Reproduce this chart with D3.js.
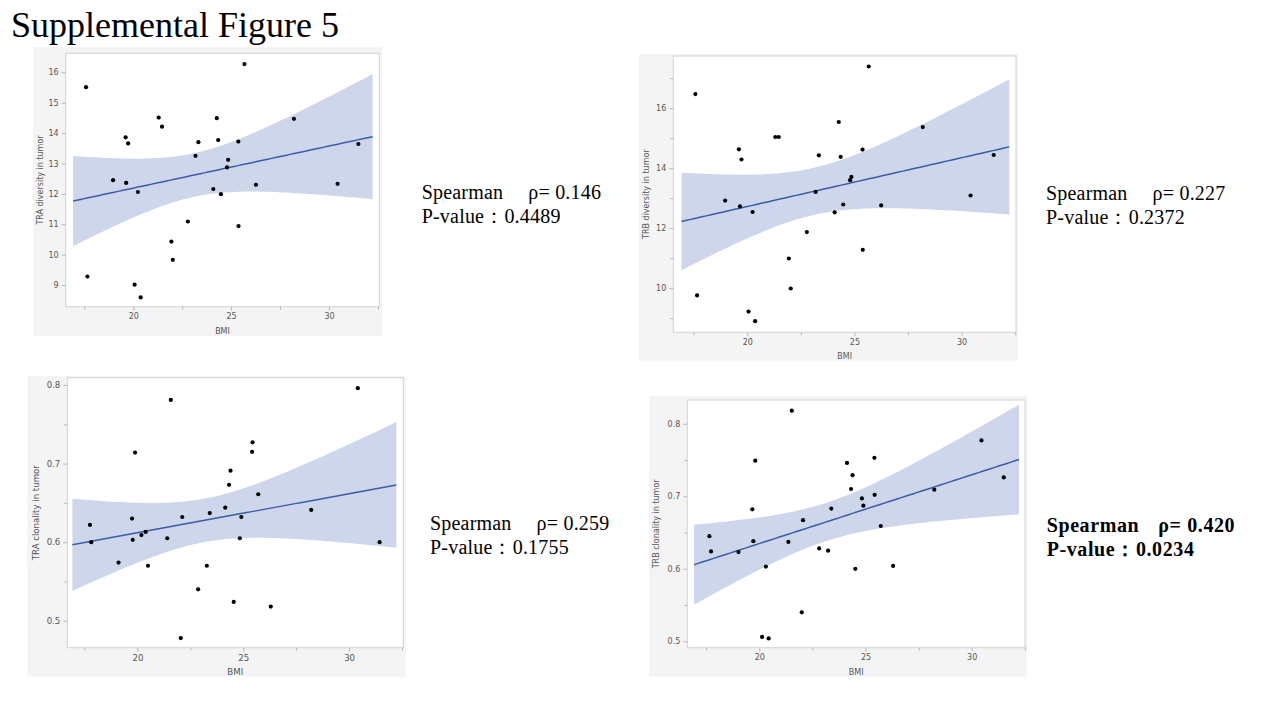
<!DOCTYPE html>
<html>
<head>
<meta charset="utf-8">
<script src="https://cdn.jsdelivr.net/npm/d3@7"></script>
<style>
  html, body { margin: 0; padding: 0; background: #ffffff; }
  svg { display: block; }
</style>
</head>
<body>
<svg id="fig" width="1280" height="720"></svg>
<script>
// ── Data (BMI vs repertoire metric) ──────────────────────────
const traDivBmi = [17.59, 17.66, 18.97, 19.61, 19.74, 19.64, 20.24, 20.07, 20.38, 21.30, 21.47, 21.95, 22.02, 22.79, 23.18,
                   23.33, 24.09, 24.27, 24.34, 24.48, 24.79, 24.85, 25.37, 25.38, 25.68, 26.27, 28.21, 30.44, 31.50];
const traDivVal = [15.51, 9.28, 12.45, 13.86, 13.66, 12.36, 12.06, 9.01, 8.59, 14.51, 14.21, 10.43, 9.83, 11.09, 13.25,
                   13.70, 12.16, 14.49, 13.77, 11.99, 12.87, 13.12, 13.72, 10.94, 16.27, 12.30, 14.47, 12.33, 13.64];

const trbDivBmi = [17.58, 17.66, 18.97, 19.61, 19.73, 19.66, 20.25, 20.06, 20.37, 21.31, 21.47, 21.94, 22.03, 22.78, 23.19,
                   23.34, 24.08, 24.27, 24.36, 24.48, 24.80, 24.86, 25.38, 25.39, 25.67, 26.25, 28.19, 30.42, 31.50];
const trbDivVal = [16.47, 9.76, 12.92, 14.63, 14.29, 12.73, 12.54, 9.22, 8.90, 15.04, 15.04, 10.99, 9.99, 11.87, 13.21,
                   14.43, 12.53, 15.54, 14.38, 12.79, 13.60, 13.71, 14.62, 11.28, 17.39, 12.76, 15.37, 13.09, 14.44];

const traCloBmi = [17.76, 17.82, 19.11, 19.75, 19.78, 19.89, 20.19, 20.39, 20.50, 21.41, 21.58, 22.05, 22.12, 22.87, 23.28,
                   23.42, 24.15, 24.33, 24.40, 24.55, 24.84, 24.91, 25.42, 25.44, 25.71, 26.30, 28.21, 30.41, 31.44];
const traCloVal = [0.622, 0.600, 0.574, 0.630, 0.603, 0.714, 0.609, 0.613, 0.570, 0.605, 0.781, 0.478, 0.632, 0.540, 0.570,
                   0.637, 0.644, 0.673, 0.691, 0.524, 0.605, 0.632, 0.715, 0.727, 0.661, 0.518, 0.641, 0.796, 0.600];

const trbCloBmi = [17.65, 17.73, 19.02, 19.67, 19.81, 19.72, 20.31, 20.13, 20.44, 21.37, 21.53, 22.00, 22.06, 22.82, 23.24,
                   23.39, 24.13, 24.32, 24.39, 24.52, 24.83, 24.90, 25.42, 25.43, 25.72, 26.30, 28.24, 30.46, 31.51];
const trbCloVal = [0.645, 0.624, 0.623, 0.682, 0.749, 0.638, 0.603, 0.506, 0.504, 0.637, 0.818, 0.540, 0.667, 0.628, 0.625,
                   0.683, 0.746, 0.710, 0.729, 0.600, 0.697, 0.687, 0.753, 0.702, 0.659, 0.604, 0.709, 0.777, 0.726];

// ── Tick labels ─────────────────────────────
const bmiTicks      = [20, 25, 30];
const bmiMinor      = [17.5, 22.5, 27.5, 32.5];
const traDivTicks   = [9, 10, 11, 12, 13, 14, 15, 16];
const trbDivTicks   = [10, 12, 14, 16];
const trbDivMinor   = [9, 11, 13, 15, 17];
const cloTicks      = [0.5, 0.6, 0.7, 0.8];
const cloMinor      = [0.55, 0.65, 0.75];

// ── Statistics text ─────────────────────────
const rhoLabels = ["ρ= 0.146", "ρ= 0.227", "ρ= 0.259", "ρ= 0.420"];
const pLabels   = ["P-value：0.4489", "P-value：0.2372", "P-value：0.1755", "P-value：0.0234"];
const yTitles   = ["TRA diversity in tumor", "TRB diversity in tumor", "TRA clonality in tumor", "TRB clonality in tumor"];

// ── Layout per panel ────────────────────────
const panels = [
  { xs: traDivBmi, ys: traDivVal, yTicks: traDivTicks, yMinor: [], fmt: d3.format("d"),
    outer: [33, 47, 382, 336], plot: [65.7, 53.3, 379.3, 306.7],
    xDom: [16.55, 32.57], yDom: [8.286, 16.625], fs: 8, titleX: 40,
    txt: { x: 421.7, y: 198.5, dx: 106.6, bold: false } },
  { xs: trbDivBmi, ys: trbDivVal, yTicks: trbDivTicks, yMinor: trbDivMinor, fmt: d3.format("d"),
    outer: [639, 54, 1018, 360.7], plot: [673.3, 56, 1016, 332.3],
    xDom: [16.55, 32.54], yDom: [8.53, 17.74], fs: 8, titleX: 646.7,
    txt: { x: 1046, y: 200, dx: 106.6, bold: false } },
  { xs: traCloBmi, ys: traCloVal, yTicks: cloTicks, yMinor: cloMinor, fmt: d3.format(".1f"),
    outer: [27.3, 375.7, 405.7, 676.7], plot: [67.3, 377.7, 403.3, 647.7],
    xDom: [16.69, 32.56], yDom: [0.4657, 0.8093], fs: 8.6, titleX: 35.7,
    txt: { x: 430, y: 530, dx: 106.6, bold: false } },
  { xs: trbCloBmi, ys: trbCloVal, yTicks: cloTicks, yMinor: cloMinor, fmt: d3.format(".1f"),
    outer: [649, 396, 1027, 676.7], plot: [687.3, 400, 1025, 647.7],
    xDom: [16.61, 32.51], yDom: [0.4912, 0.8327], fs: 8, titleX: 656.7,
    txt: { x: 1046.7, y: 531.5, dx: 111.6, bold: true } }
];

const fitRange = [16.93, 32.23];

const svg = d3.select("#fig");

// ── Title ───────────────────────────────────
svg.append("text")
  .attr("x", 11).attr("y", 37)
  .attr("font-family", "'Liberation Serif', 'Times New Roman', serif")
  .attr("font-size", "36px")
  .attr("fill", "#000")
  .text("Supplemental Figure 5");

// ── Least squares fit with 95% CI of the mean ──
function fitBand(xs, ys, x0, x1) {
  const n  = xs.length;
  const mx = d3.mean(xs), my = d3.mean(ys);
  let sxx = 0, sxy = 0;
  xs.forEach((x, i) => { sxx += (x - mx) ** 2; sxy += (x - mx) * (ys[i] - my); });
  const b = sxy / sxx, a = my - b * mx;
  const sse = d3.sum(xs, (x, i) => (ys[i] - a - b * x) ** 2);
  const s = Math.sqrt(sse / (n - 2));
  const t = 2.052; // t(0.975, 27)
  return d3.range(0, 81).map(i => {
    const x  = x0 + (x1 - x0) * i / 80;
    const yh = a + b * x;
    const se = s * Math.sqrt(1 / n + (x - mx) ** 2 / sxx);
    return { x, y: yh, lo: yh - t * se, hi: yh + t * se };
  });
}

panels.forEach((p, idx) => {
  const [ox0, oy0, ox1, oy1] = p.outer;
  const [px0, py0, px1, py1] = p.plot;
  const x = d3.scaleLinear().domain(p.xDom).range([px0, px1]);
  const y = d3.scaleLinear().domain(p.yDom).range([py1, py0]);
  const font = "'DejaVu Sans', Verdana, sans-serif";

  const g = svg.append("g");

  // Outer screenshot frame
  g.append("rect")
    .attr("x", ox0).attr("y", oy0)
    .attr("width", ox1 - ox0).attr("height", oy1 - oy0)
    .attr("fill", "#f4f4f4");

  g.append("rect")
    .attr("x", px0).attr("y", py0)
    .attr("width", px1 - px0).attr("height", py1 - py0)
    .attr("fill", "#ffffff")
    .attr("stroke", "#d2d2d2")
    .attr("stroke-width", 1);

  const clipId = `clip-${idx}`;
  g.append("clipPath").attr("id", clipId)
    .append("rect")
    .attr("x", px0).attr("y", py0)
    .attr("width", px1 - px0).attr("height", py1 - py0);

  const inner = g.append("g").attr("clip-path", `url(#${clipId})`);

  // Confidence band and fit line
  const band = fitBand(p.xs, p.ys, fitRange[0], fitRange[1]);
  inner.append("path")
    .datum(band)
    .attr("fill", "#cdd6ea")
    .attr("d", d3.area().x(d => x(d.x)).y0(d => y(d.lo)).y1(d => y(d.hi)));

  inner.append("path")
    .datum(band)
    .attr("fill", "none")
    .attr("stroke", "#3d5ca8")
    .attr("stroke-width", 1.5)
    .attr("d", d3.line().x(d => x(d.x)).y(d => y(d.y)));

  // Points
  inner.selectAll(".pt")
    .data(p.xs.map((v, i) => [v, p.ys[i]]))
    .join("circle")
    .attr("cx", d => x(d[0]))
    .attr("cy", d => y(d[1]))
    .attr("r", 2.1)
    .attr("fill", "#000");

  // X axis
  const styleAxis = sel => {
    sel.select(".domain").remove();
    sel.selectAll(".tick line").attr("stroke", "#b8b8b8");
    sel.selectAll(".tick text")
      .attr("fill", "#555")
      .attr("font-size", `${p.fs}px`)
      .attr("font-family", font);
  };

  g.append("g")
    .attr("transform", `translate(0,${py1})`)
    .call(d3.axisBottom(x).tickValues(bmiTicks).tickSize(4).tickPadding(3).tickFormat(d3.format("d")))
    .call(styleAxis);

  g.append("g")
    .attr("transform", `translate(0,${py1})`)
    .call(d3.axisBottom(x).tickValues(bmiMinor).tickSize(3).tickFormat(""))
    .call(styleAxis);

  // Y axis
  g.append("g")
    .attr("transform", `translate(${px0},0)`)
    .call(d3.axisLeft(y).tickValues(p.yTicks).tickSize(4).tickPadding(3).tickFormat(p.fmt))
    .call(styleAxis);

  g.append("g")
    .attr("transform", `translate(${px0},0)`)
    .call(d3.axisLeft(y).tickValues(p.yMinor.filter(v => v > p.yDom[0] && v < p.yDom[1])).tickSize(3).tickFormat(""))
    .call(styleAxis);

  // Axis titles
  g.append("text")
    .attr("x", (px0 + px1) / 2)
    .attr("y", py1 + 27)
    .attr("text-anchor", "middle")
    .attr("fill", "#555")
    .attr("font-size", `${p.fs}px`)
    .attr("font-family", font)
    .text("BMI");

  g.append("text")
    .attr("transform", `translate(${p.titleX},${(py0 + py1) / 2}) rotate(-90)`)
    .attr("text-anchor", "middle")
    .attr("dominant-baseline", "central")
    .attr("fill", "#555")
    .attr("font-size", `${p.fs}px`)
    .attr("font-family", font)
    .text(yTitles[idx]);

  // Spearman annotation
  const t = svg.append("text")
    .attr("font-family", "'Liberation Serif', 'Times New Roman', serif")
    .attr("font-size", "20px")
    .attr("font-weight", p.txt.bold ? "bold" : "normal")
    .attr("letter-spacing", p.txt.bold ? "0.6px" : "0.2px")
    .attr("fill", "#000");

  t.append("tspan").attr("x", p.txt.x).attr("y", p.txt.y).text("Spearman");
  t.append("tspan").attr("x", p.txt.x + p.txt.dx).attr("y", p.txt.y).text(rhoLabels[idx]);
  t.append("tspan").attr("x", p.txt.x).attr("y", p.txt.y + 24).text(pLabels[idx]);
});
</script>
</body>
</html>
